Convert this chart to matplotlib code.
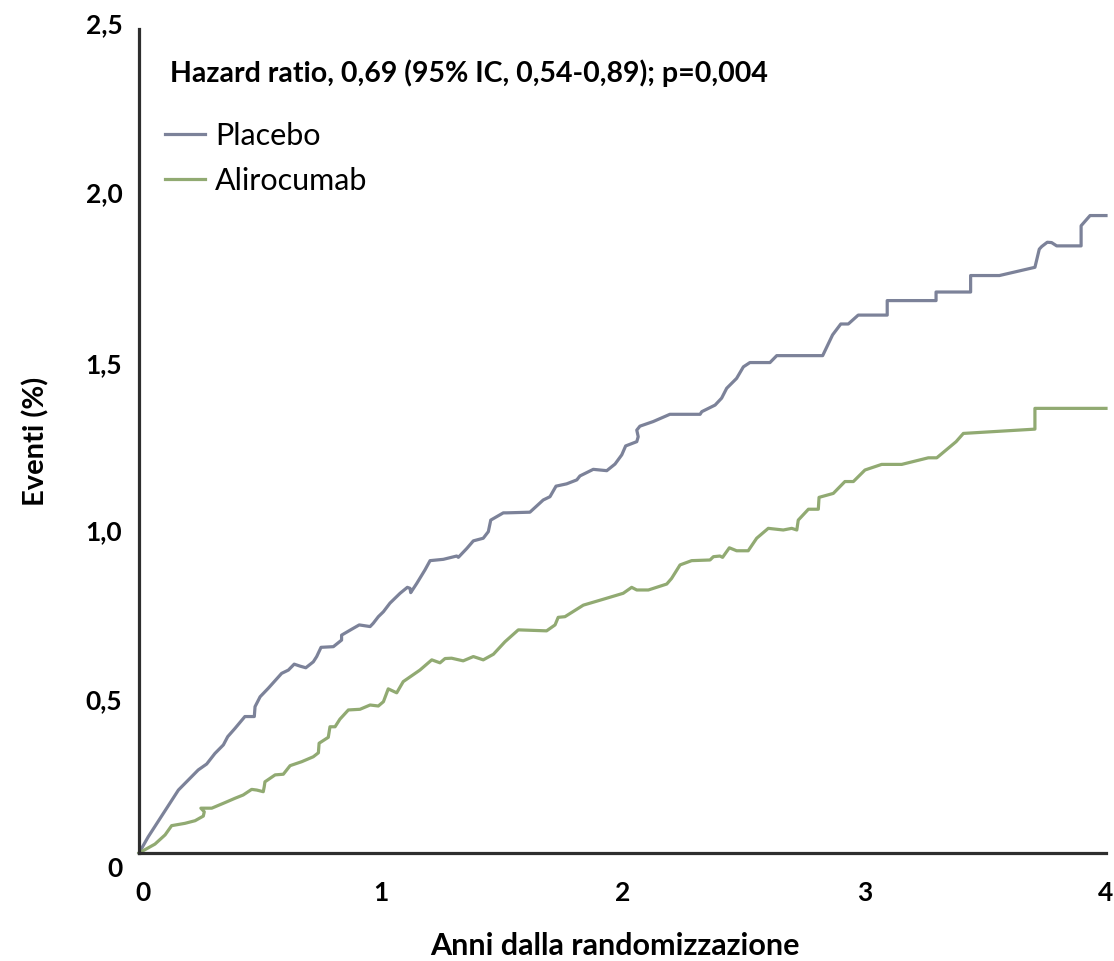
import matplotlib
matplotlib.use("Agg")
import matplotlib.pyplot as plt
import matplotlib.transforms as mtransforms
from matplotlib.ticker import FixedLocator

plt.rcParams['font.family'] = ['Lato', 'DejaVu Sans']

# ---- data ----
placebo_x = [0.000, 0.038, 0.163, 0.245, 0.280, 0.314, 0.349, 0.367, 0.397, 0.438,
             0.477, 0.480, 0.501, 0.535, 0.590, 0.618, 0.642, 0.666, 0.690, 0.721,
             0.735, 0.753, 0.804, 0.838, 0.838, 0.880, 0.911, 0.956, 0.969, 0.990,
             1.011, 1.038, 1.080, 1.110, 1.121, 1.124, 1.149, 1.183, 1.204, 1.259,
             1.314, 1.321, 1.356, 1.383, 1.424, 1.445, 1.455, 1.507, 1.521, 1.617,
             1.672, 1.700, 1.725, 1.769, 1.811, 1.824, 1.879, 1.935, 1.969, 1.997,
             2.013, 2.059, 2.065, 2.059, 2.072, 2.127, 2.196, 2.321, 2.328, 2.383,
             2.410, 2.431, 2.472, 2.500, 2.527, 2.610, 2.638, 2.828, 2.869, 2.903,
             2.934, 2.975, 3.095, 3.095, 3.297, 3.297, 3.440, 3.440, 3.559, 3.706,
             3.724, 3.734, 3.757, 3.775, 3.796, 3.897, 3.897, 3.934, 4.000]
placebo_y = [0.000, 0.049, 0.191, 0.252, 0.270, 0.302, 0.328, 0.353, 0.378, 0.414,
             0.414, 0.444, 0.474, 0.500, 0.545, 0.555, 0.573, 0.567, 0.562, 0.580,
             0.596, 0.624, 0.626, 0.646, 0.661, 0.679, 0.692, 0.687, 0.697, 0.717,
             0.732, 0.758, 0.788, 0.806, 0.803, 0.790, 0.818, 0.859, 0.887, 0.891,
             0.901, 0.897, 0.924, 0.947, 0.955, 0.975, 1.010, 1.032, 1.032, 1.034,
             1.071, 1.081, 1.113, 1.120, 1.132, 1.144, 1.164, 1.160, 1.180, 1.208,
             1.235, 1.248, 1.263, 1.283, 1.295, 1.309, 1.331, 1.331, 1.339, 1.359,
             1.380, 1.410, 1.440, 1.475, 1.488, 1.488, 1.509, 1.509, 1.572, 1.605,
             1.605, 1.632, 1.632, 1.676, 1.676, 1.702, 1.702, 1.752, 1.752, 1.777,
             1.832, 1.840, 1.853, 1.852, 1.842, 1.842, 1.903, 1.934, 1.934]

aliro_x = [0.000, 0.066, 0.108, 0.135, 0.190, 0.232, 0.266, 0.270, 0.256, 0.301,
           0.356, 0.397, 0.431, 0.466, 0.487, 0.514, 0.518, 0.521, 0.563, 0.597,
           0.625, 0.673, 0.721, 0.742, 0.745, 0.783, 0.790, 0.811, 0.831, 0.866,
           0.914, 0.956, 0.990, 1.011, 1.031, 1.066, 1.093, 1.162, 1.211, 1.245,
           1.266, 1.293, 1.341, 1.383, 1.424, 1.466, 1.514, 1.569, 1.686, 1.721,
           1.734, 1.762, 1.838, 1.921, 2.003, 2.038, 2.059, 2.107, 2.183, 2.203,
           2.238, 2.286, 2.362, 2.376, 2.403, 2.414, 2.442, 2.472, 2.520, 2.555,
           2.603, 2.665, 2.700, 2.721, 2.727, 2.769, 2.810, 2.813, 2.872, 2.920,
           2.955, 3.003, 3.072, 3.155, 3.265, 3.300, 3.380, 3.410, 3.706, 3.706,
           4.000]
aliro_y = [0.000, 0.027, 0.055, 0.083, 0.090, 0.098, 0.112, 0.125, 0.136, 0.136,
           0.153, 0.166, 0.176, 0.193, 0.191, 0.186, 0.201, 0.216, 0.237, 0.239,
           0.265, 0.277, 0.292, 0.304, 0.333, 0.351, 0.383, 0.383, 0.406, 0.434,
           0.436, 0.449, 0.446, 0.459, 0.498, 0.486, 0.520, 0.555, 0.586, 0.577,
           0.590, 0.591, 0.583, 0.596, 0.586, 0.603, 0.641, 0.677, 0.674, 0.692,
           0.715, 0.717, 0.752, 0.770, 0.788, 0.806, 0.798, 0.798, 0.816, 0.833,
           0.874, 0.887, 0.889, 0.899, 0.901, 0.897, 0.926, 0.917, 0.917, 0.955,
           0.985, 0.980, 0.985, 0.980, 1.010, 1.043, 1.043, 1.079, 1.091, 1.127,
           1.127, 1.162, 1.179, 1.179, 1.199, 1.199, 1.248, 1.273, 1.286, 1.349,
           1.349]

series_names = ["Placebo", "Alirocumab"]
x_ticks = [0, 1, 2, 3, 4]
x_tick_labels = ["0", "1", "2", "3", "4"]
y_ticks = [0, 0.5, 1.0, 1.5, 2.0, 2.5]
y_tick_labels = ["0", "0,5", "1,0", "1,5", "2,0", "2,5"]
hazard_text = "Hazard ratio, 0,69 (95% IC, 0,54-0,89); p=0,004"
x_label = "Anni dalla randomizzazione"
y_label = "Eventi (%)"

# ---- style ----
c_placebo = "#7c8299"
c_aliro = "#91aa72"
c_axis = "#2e2e2e"
lw = 2.3

fig = plt.figure(figsize=(11.14, 9.61), dpi=100)
ax = fig.add_axes([139/1114, 108/961, 967/1114, 824/961])

ax.plot(placebo_x, placebo_y, color=c_placebo, lw=lw, label=series_names[0],
        solid_joinstyle='round', clip_on=False)
ax.plot(aliro_x, aliro_y, color=c_aliro, lw=lw, label=series_names[1],
        solid_joinstyle='round', clip_on=False)

ax.set_xlim(0, 4)
ax.set_ylim(0, 2.5)

for s in ("top", "right"):
    ax.spines[s].set_visible(False)
for s in ("left", "bottom"):
    ax.spines[s].set_color(c_axis)
    ax.spines[s].set_linewidth(2.3)

ax.set_xticks(x_ticks)
ax.set_xticklabels(x_tick_labels, fontsize=19, fontweight='bold')
ax.set_yticks(y_ticks)
ax.set_yticklabels(y_tick_labels, fontsize=19, fontweight='bold')
ax.tick_params(axis='x', length=0, pad=20)
ax.tick_params(axis='y', length=0, pad=12)
ax.yaxis.set_minor_locator(FixedLocator([2.5]))
ax.tick_params(axis='y', which='minor', length=11.5, width=2.3, color=c_axis)

# designer's small vertical offsets of the y tick labels (pixels, downward)
label_shift_px = [14.0, 11.0, 6.6, 4.4, -2.1, -5.7]
for lab, d in zip(ax.get_yticklabels(), label_shift_px):
    lab.set_transform(lab.get_transform() +
                      mtransforms.ScaledTranslation(0, -d / 100, fig.dpi_scale_trans))
xlab0 = ax.get_xticklabels()[0]
xlab0.set_transform(xlab0.get_transform() +
                    mtransforms.ScaledTranslation(4 / 100, 0, fig.dpi_scale_trans))

ax.set_xlabel(x_label, fontsize=22, fontweight='bold')
ax.xaxis.set_label_coords((615 - 139) / 967, -0.096)
ax.set_ylabel(y_label, fontsize=21, fontweight='bold')
ax.yaxis.set_label_coords(-0.093, 0.5)

ax.text(0.032, 0.9466, hazard_text, transform=ax.transAxes, fontsize=20.5,
        fontweight='bold', va='center', ha='left', color='black')

leg = ax.legend(loc='upper left', bbox_to_anchor=(0.027, 0.887), frameon=False,
                fontsize=22, handlelength=1.3, handletextpad=0.33,
                labelspacing=0.54, borderpad=0, borderaxespad=0)

fig.savefig("out.png", dpi=100, facecolor='white')
